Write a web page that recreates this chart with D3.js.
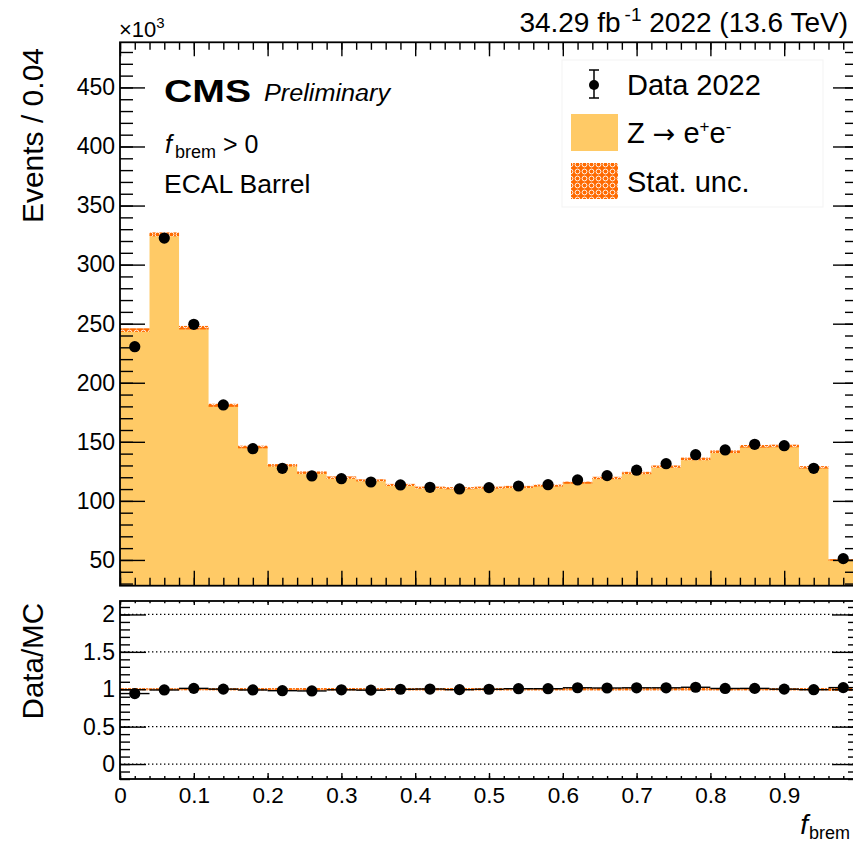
<!DOCTYPE html>
<html>
<head>
<meta charset="utf-8">
<script src="https://cdn.jsdelivr.net/npm/d3@7"></script>
<style>
  body { margin: 0; background: #fff; }
  svg { display: block; }
  text { font-family: "Liberation Sans", Arial, Helvetica, sans-serif; fill: #000; }
</style>
</head>
<body>
<svg id="chart" width="853" height="843"></svg>
<script>
// f_brem bins (centres), width 0.04
const binCenters = [0.02, 0.06, 0.10, 0.14, 0.18, 0.22, 0.26, 0.30, 0.34, 0.38,
                    0.42, 0.46, 0.50, 0.54, 0.58, 0.62, 0.66, 0.70, 0.74, 0.78,
                    0.82, 0.86, 0.90, 0.94, 0.98];
const binWidth = 0.04;

// Events per bin, in units of 10^3
const dataK = [230.5, 322.5, 249.5, 181.2, 144.2, 127.6, 121.1, 118.8, 116.0, 113.5,
               111.5, 110.1, 111.2, 112.6, 113.7, 117.7, 121.4, 126.0, 131.5, 139.1,
               143.1, 147.9, 146.7, 127.6, 51.1];
const mcK   = [244.6, 325.6, 246.6, 180.9, 145.6, 130.1, 123.9, 119.7, 117.4, 113.5,
               111.2, 110.7, 111.2, 111.8, 112.9, 115.4, 119.4, 123.6, 129.0, 135.5,
               141.6, 146.2, 146.5, 128.4, 50.0];
// MC statistical uncertainty per bin (10^3 events)
const mcUncK = [1.5, 1.7, 1.5, 1.3, 1.1, 1.0, 1.0, 1.0, 0.9, 0.9,
                0.9, 0.9, 0.9, 0.9, 0.9, 0.9, 1.0, 1.0, 1.0, 1.1,
                1.1, 1.1, 1.1, 1.0, 0.7];

const xTickValues = [0, 0.1, 0.2, 0.3, 0.4, 0.5, 0.6, 0.7, 0.8, 0.9];
const xTickLabels = ["0", "0.1", "0.2", "0.3", "0.4", "0.5", "0.6", "0.7", "0.8", "0.9"];
const yTickValues = [50, 100, 150, 200, 250, 300, 350, 400, 450];
const yTickLabels = ["50", "100", "150", "200", "250", "300", "350", "400", "450"];
const ratioTickValues = [0, 0.5, 1, 1.5, 2];
const ratioTickLabels = ["0", "0.5", "1", "1.5", "2"];

const svg = d3.select("#chart");

// Pad geometry
const L = 120, R = 858;
const mainTop = 42.3, mainBot = 585.7;
const ratTop = 601, ratBot = 779;

const x = d3.scaleLinear().domain([0, 1]).range([L, R]);
const y = d3.scaleLinear().domain([28.2, 488.2]).range([mainBot, mainTop]);
const yr = d3.scaleLinear().domain([-0.2, 2.18]).range([ratBot, ratTop]);

const fillMC = "#ffca66";
const uncColor = "#ff6a00";

const defs = svg.append("defs");
const pat = defs.append("pattern").attr("id", "statHatch")
  .attr("patternUnits", "userSpaceOnUse").attr("width", 7).attr("height", 7);
pat.append("rect").attr("width", 7).attr("height", 7).attr("fill", uncColor);
pat.append("circle").attr("cx", 3.5).attr("cy", 3.5).attr("r", 2.4)
  .attr("fill", "none").attr("stroke", "#fff").attr("stroke-width", 0.9);

defs.append("clipPath").attr("id", "clipMain").append("rect")
  .attr("x", L).attr("y", mainTop).attr("width", R - L).attr("height", mainBot - mainTop);
defs.append("clipPath").attr("id", "clipRatio").append("rect")
  .attr("x", L).attr("y", ratTop).attr("width", R - L).attr("height", ratBot - ratTop);

const bins = binCenters.map((c, i) => ({
  lo: c - binWidth / 2, hi: c + binWidth / 2, c,
  data: dataK[i], mc: mcK[i], unc: mcUncK[i],
  ratio: dataK[i] / mcK[i], runc: mcUncK[i] / mcK[i]
}));

// ---------------- main pad ----------------
const gMain = svg.append("g").attr("clip-path", "url(#clipMain)");

// MC histogram as a filled step outline
const stepPts = [];
bins.forEach(b => { stepPts.push([b.lo, b.mc]); stepPts.push([b.hi, b.mc]); });
const area = d3.area()
  .x(d => x(d[0])).y0(y(y.domain()[0])).y1(d => y(d[1]));
gMain.append("path").datum(stepPts).attr("d", area).attr("fill", fillMC);

// MC stat. uncertainty band
gMain.selectAll("rect.unc").data(bins).join("rect").attr("class", "unc")
  .attr("x", d => x(d.lo)).attr("width", d => x(d.hi) - x(d.lo))
  .attr("y", d => y(d.mc + d.unc)).attr("height", d => y(d.mc - d.unc) - y(d.mc + d.unc))
  .attr("fill", "url(#statHatch)");

// data points
gMain.selectAll("circle.data").data(bins).join("circle").attr("class", "data")
  .attr("cx", d => x(d.c)).attr("cy", d => y(d.data)).attr("r", 5.6).attr("fill", "#000");

// axes of the main pad
function axisGroup(gen, tx, ty) {
  const g = svg.append("g").attr("transform", `translate(${tx},${ty})`).call(gen);
  g.select(".domain").remove();
  g.selectAll(".tick line").attr("stroke", "#000").attr("stroke-width", 1.4);
  return g;
}
const minorX = d3.range(0, 51).map(i => i * 0.02);
const minorY = d3.range(3, 49).map(i => i * 10);
const minorR = d3.range(-2, 22).map(i => i * 0.1);

// left y axis with labels
const yLeft = axisGroup(d3.axisLeft(y).tickValues(yTickValues)
  .tickFormat((d, i) => yTickLabels[i]).tickSizeInner(-25).tickSizeOuter(0).tickPadding(5), L, 0);
yLeft.selectAll("text").attr("font-size", 23).attr("font-family", "Liberation Sans, Arial, sans-serif");
axisGroup(d3.axisLeft(y).tickValues(minorY).tickFormat("").tickSizeInner(-13).tickSizeOuter(0), L, 0);
// right y axis
axisGroup(d3.axisRight(y).tickValues(yTickValues).tickFormat("").tickSizeInner(-25).tickSizeOuter(0), R, 0);
axisGroup(d3.axisRight(y).tickValues(minorY).tickFormat("").tickSizeInner(-13).tickSizeOuter(0), R, 0);
// bottom / top x ticks
axisGroup(d3.axisBottom(x).tickValues(xTickValues).tickFormat("").tickSizeInner(-15).tickSizeOuter(0), 0, mainBot);
axisGroup(d3.axisBottom(x).tickValues(minorX).tickFormat("").tickSizeInner(-8).tickSizeOuter(0), 0, mainBot);
axisGroup(d3.axisTop(x).tickValues(xTickValues).tickFormat("").tickSizeInner(-14).tickSizeOuter(0), 0, mainTop);
axisGroup(d3.axisTop(x).tickValues(minorX).tickFormat("").tickSizeInner(-7.5).tickSizeOuter(0), 0, mainTop);

svg.append("rect").attr("x", L).attr("y", mainTop).attr("width", R - L).attr("height", mainBot - mainTop)
  .attr("fill", "none").attr("stroke", "#000").attr("stroke-width", 1.8);

// ---------------- ratio pad ----------------
const gRat = svg.append("g").attr("clip-path", "url(#clipRatio)");
gRat.selectAll("line.grid").data(ratioTickValues).join("line").attr("class", "grid")
  .attr("x1", L).attr("x2", R).attr("y1", d => yr(d)).attr("y2", d => yr(d))
  .attr("stroke", "#000").attr("stroke-width", 1.3).attr("stroke-dasharray", "1.4,2.6");

gRat.selectAll("rect.runc").data(bins).join("rect").attr("class", "runc")
  .attr("x", d => x(d.lo)).attr("width", d => x(d.hi) - x(d.lo))
  .attr("y", d => yr(1 + d.runc) - 0.6).attr("height", d => yr(1 - d.runc) - yr(1 + d.runc) + 1.2)
  .attr("fill", "url(#statHatch)");

gRat.selectAll("line.xerr").data(bins).join("line").attr("class", "xerr")
  .attr("x1", d => x(d.lo)).attr("x2", d => x(d.hi))
  .attr("y1", d => yr(d.ratio)).attr("y2", d => yr(d.ratio))
  .attr("stroke", "#000").attr("stroke-width", 1.4);

gRat.selectAll("circle.rdata").data(bins).join("circle").attr("class", "rdata")
  .attr("cx", d => x(d.c)).attr("cy", d => yr(d.ratio)).attr("r", 5.6).attr("fill", "#000");

const rLeft = axisGroup(d3.axisLeft(yr).tickValues(ratioTickValues)
  .tickFormat((d, i) => ratioTickLabels[i]).tickSizeInner(-26).tickSizeOuter(0).tickPadding(5), L, 0);
rLeft.selectAll("text").attr("font-size", 23).attr("font-family", "Liberation Sans, Arial, sans-serif");
axisGroup(d3.axisLeft(yr).tickValues(minorR).tickFormat("").tickSizeInner(-10).tickSizeOuter(0), L, 0);
axisGroup(d3.axisRight(yr).tickValues(ratioTickValues).tickFormat("").tickSizeInner(-26).tickSizeOuter(0), R, 0);
axisGroup(d3.axisRight(yr).tickValues(minorR).tickFormat("").tickSizeInner(-10).tickSizeOuter(0), R, 0);

const xBot = axisGroup(d3.axisBottom(x).tickValues(xTickValues)
  .tickFormat((d, i) => xTickLabels[i]).tickSizeInner(-6).tickSizeOuter(0).tickPadding(8), 0, ratBot);
xBot.selectAll("text").attr("font-size", 22.5).attr("font-family", "Liberation Sans, Arial, sans-serif");
axisGroup(d3.axisBottom(x).tickValues(minorX).tickFormat("").tickSizeInner(-3).tickSizeOuter(0), 0, ratBot);
axisGroup(d3.axisTop(x).tickValues(xTickValues).tickFormat("").tickSizeInner(-4).tickSizeOuter(0), 0, ratTop);
axisGroup(d3.axisTop(x).tickValues(minorX).tickFormat("").tickSizeInner(-2.3).tickSizeOuter(0), 0, ratTop);

svg.append("rect").attr("x", L).attr("y", ratTop).attr("width", R - L).attr("height", ratBot - ratTop)
  .attr("fill", "none").attr("stroke", "#000").attr("stroke-width", 1.8);

// ---------------- titles and labels ----------------
// exponent of the y axis
const expo = svg.append("text").attr("x", 119).attr("y", 37).attr("font-size", 22);
expo.append("tspan").text("×10");
expo.append("tspan").attr("dy", -9).attr("font-size", 15).text("3");

// luminosity / energy
const lumi = svg.append("text").attr("x", 848).attr("y", 32).attr("font-size", 28).attr("text-anchor", "end");
lumi.append("tspan").text("34.29 fb");
lumi.append("tspan").attr("dx", 4).attr("dy", -11).attr("font-size", 19).text("-1");
lumi.append("tspan").attr("dy", 11).text(" 2022 (13.6 TeV)");

svg.append("text").attr("x", 164).attr("y", 102).attr("font-size", 31).attr("font-weight", "bold")
  .attr("textLength", 87).attr("lengthAdjust", "spacingAndGlyphs").text("CMS");
svg.append("text").attr("x", 264).attr("y", 101).attr("font-size", 23).attr("font-style", "italic")
  .attr("textLength", 126).attr("lengthAdjust", "spacingAndGlyphs").text("Preliminary");

const cut = svg.append("text").attr("x", 165).attr("y", 153).attr("font-size", 25);
cut.append("tspan").attr("font-style", "italic").text("f");
cut.append("tspan").attr("dx", 3).attr("dy", 5).attr("font-size", 18).text("brem");
cut.append("tspan").attr("dy", -5).text(" > 0");
svg.append("text").attr("x", 164).attr("y", 193).attr("font-size", 26.5).text("ECAL Barrel");

// y-axis titles
svg.append("text").attr("transform", "translate(43,48) rotate(-90)").attr("text-anchor", "end")
  .attr("font-size", 30).text("Events / 0.04");
svg.append("text").attr("transform", "translate(43,603) rotate(-90)").attr("text-anchor", "end")
  .attr("font-size", 29.5).text("Data/MC");

// x-axis title
const xt = svg.append("text").attr("x", 850).attr("y", 834).attr("font-size", 28).attr("text-anchor", "end");
xt.append("tspan").attr("font-style", "italic").text("f");
xt.append("tspan").attr("dx", 1).attr("dy", 5).attr("font-size", 18).text("brem");

// ---------------- legend ----------------
const lg = svg.append("g");
lg.append("rect").attr("x", 562).attr("y", 60).attr("width", 261).attr("height", 147)
  .attr("fill", "#fff").attr("stroke", "#f3f3f3");
lg.append("line").attr("x1", 594).attr("x2", 594).attr("y1", 70).attr("y2", 98)
  .attr("stroke", "#000").attr("stroke-width", 1.5);
lg.append("line").attr("x1", 589).attr("x2", 599).attr("y1", 70).attr("y2", 70)
  .attr("stroke", "#000").attr("stroke-width", 1.5);
lg.append("line").attr("x1", 589).attr("x2", 599).attr("y1", 98).attr("y2", 98)
  .attr("stroke", "#000").attr("stroke-width", 1.5);
lg.append("circle").attr("cx", 594).attr("cy", 85).attr("r", 5).attr("fill", "#000");
lg.append("text").attr("x", 627).attr("y", 95).attr("font-size", 29).text("Data 2022");

lg.append("rect").attr("x", 571).attr("y", 114).attr("width", 47).attr("height", 37).attr("fill", fillMC);
const zt = lg.append("text").attr("x", 627).attr("y", 143).attr("font-size", 29);
zt.append("tspan").text("Z ");
zt.append("tspan").attr("font-family", "DejaVu Sans").attr("font-size", 27).text("→");
zt.append("tspan").text(" e");
zt.append("tspan").attr("dy", -11).attr("font-size", 17).text("+");
zt.append("tspan").attr("dy", 11).text("e");
zt.append("tspan").attr("dy", -11).attr("font-size", 17).text("-");

lg.append("rect").attr("x", 571).attr("y", 163).attr("width", 47).attr("height", 36).attr("fill", "url(#statHatch)");
lg.append("text").attr("x", 627).attr("y", 192).attr("font-size", 29).text("Stat. unc.");
</script>
</body>
</html>
